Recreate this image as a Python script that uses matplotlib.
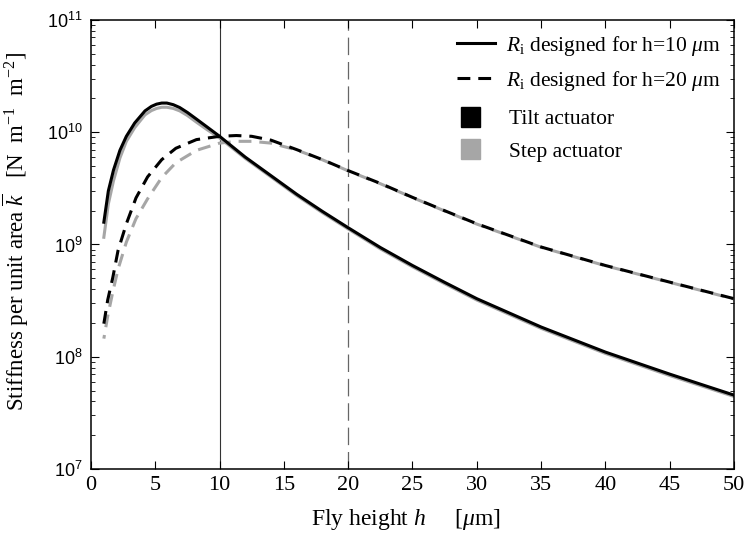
import numpy as np
import matplotlib
matplotlib.use("Agg")
import matplotlib.pyplot as plt
from matplotlib.lines import Line2D
from matplotlib.patches import Patch, Rectangle
from matplotlib.legend_handler import HandlerPatch
from matplotlib.ticker import FixedLocator, FuncFormatter, LogLocator, NullFormatter

plt.rcParams['font.family'] = ['Liberation Serif', 'DejaVu Serif']
plt.rcParams['mathtext.fontset'] = 'custom'
plt.rcParams['mathtext.rm'] = 'Liberation Serif'
plt.rcParams['mathtext.it'] = 'Liberation Serif:italic'
plt.rcParams['mathtext.sf'] = 'Liberation Sans'

# fly height (um), Ri designed for h=10 um
h_10 = [1, 1.35, 1.75, 2.25, 2.75, 3.4, 4.2, 4.7, 5.1, 5.5, 5.9, 6.4, 6.9, 7.5, 8.2, 9, 10,
        12, 14, 16, 18, 20, 22.5, 25, 27.5, 30, 35, 40, 45, 50]
tilt_10 = [1.58e9, 3.0e9, 4.6e9, 6.9e9, 9.2e9, 1.21e10, 1.55e10, 1.70e10, 1.78e10, 1.82e10,
           1.82e10, 1.76e10, 1.66e10, 1.50e10, 1.31e10, 1.12e10, 9.2e9,
           6.0e9, 4.1e9, 2.8e9, 1.97e9, 1.41e9, 9.4e8, 6.5e8, 4.6e8, 3.29e8, 1.84e8, 1.10e8, 7.0e7, 4.55e7]
step_10 = [1.16e9, 2.3e9, 3.7e9, 5.9e9, 8.3e9, 1.10e10, 1.43e10, 1.56e10, 1.63e10, 1.67e10,
           1.67e10, 1.63e10, 1.55e10, 1.41e10, 1.23e10, 1.06e10, 8.9e9,
           5.85e9, 4.0e9, 2.73e9, 1.92e9, 1.375e9, 9.15e8, 6.33e8, 4.48e8, 3.2e8, 1.79e8, 1.07e8, 6.8e7, 4.43e7]

# fly height (um), Ri designed for h=20 um
h_20 = [1, 1.3, 1.7, 2.1, 2.75, 3.5, 4.4, 5.5, 6.6, 8.2, 10, 11.3, 12.5, 14, 16, 18, 20,
        22.5, 25, 27.5, 30, 35, 40, 45, 50]
tilt_20 = [1.97e8, 3.2e8, 5.1e8, 8.8e8, 1.53e9, 2.6e9, 4.0e9, 5.7e9, 7.2e9, 8.6e9, 9.2e9,
           9.35e9, 9.2e9, 8.5e9, 7.0e9, 5.7e9, 4.55e9,
           3.5e9, 2.63e9, 2.0e9, 1.53e9, 9.5e8, 6.5e8, 4.62e8, 3.29e8]
step_20 = [1.45e8, 2.3e8, 3.8e8, 6.0e8, 1.05e9, 1.7e9, 2.55e9, 3.95e9, 5.35e9, 6.9e9, 8.0e9,
           8.3e9, 8.3e9, 8.0e9, 6.95e9, 5.68e9, 4.53e9,
           3.48e9, 2.62e9, 1.99e9, 1.52e9, 9.45e8, 6.47e8, 4.6e8, 3.27e8]

line_labels = [r'$R_\mathrm{i}$ designed for h=10 $\mu$m',
               r'$R_\mathrm{i}$ designed for h=20 $\mu$m']
actuator_labels = ['Tilt actuator', 'Step actuator']

grey = '#a6a6a6'
dash = (0, (4.2, 2.6))

fig = plt.figure(figsize=(7.47, 5.35), dpi=100)
ax = fig.add_axes([0.1218, 0.1234, 0.8608, 0.8392])

ax.axvline(10, color='#333333', lw=0.8, zorder=1)
ax.axvline(20, color='#666666', lw=0.9, linestyle=(0, (14, 5.5)), zorder=1)

ax.plot(h_10, step_10, color=grey, lw=2.2, zorder=2)
ax.plot(h_20, step_20, color=grey, lw=2.2, linestyle=(3, (4.2, 2.6)), zorder=2)
ax.plot(h_10, tilt_10, color='black', lw=2.2, zorder=3)
ax.plot(h_20, tilt_20, color='black', lw=2.2, linestyle=dash, zorder=3)

ax.set_yscale('log')
ax.set_xlim(0, 50)
ax.set_ylim(1e7, 1e11)
ax.xaxis.set_major_locator(FixedLocator(np.arange(0, 51, 5)))
ax.yaxis.set_major_locator(LogLocator(base=10, numticks=10))
ax.yaxis.set_minor_locator(LogLocator(base=10, subs=np.arange(2, 10), numticks=20))
ax.yaxis.set_minor_formatter(NullFormatter())
ax.yaxis.set_major_formatter(FuncFormatter(lambda v, p: r'$\mathsf{10^{%d}}$' % round(np.log10(v))))

ax.tick_params(which='both', direction='in', top=True, right=True)
ax.tick_params(which='major', length=6, width=0.8)
ax.tick_params(which='minor', length=3, width=0.6)
ax.tick_params(axis='x', labelsize=16, pad=5)
ax.tick_params(axis='y', labelsize=13, pad=6)
for s in ax.spines.values():
    s.set_linewidth(1.1)

ax.set_xlabel(r'Fly height $h$     [$\mu$m]', fontsize=17, labelpad=9)
ax.xaxis.set_label_coords(0.49, -0.085)
ax.set_ylabel(r'Stiffness per unit area $\overline{k}$   [N  m$^{-1}$  m$^{-2}$]', fontsize=16.5)
ax.yaxis.set_label_coords(-0.093, 0.53)


def square(legend, orig_handle, xdescent, ydescent, width, height, fontsize):
    s = height * 1.3
    return Rectangle((-xdescent, -ydescent + (height - s) / 2), s, s)


line_handles = [Line2D([], [], color='black', lw=2.2),
                Line2D([], [], color='black', lw=2.2, linestyle=dash)]
leg1 = ax.legend(line_handles, line_labels, loc='upper right', frameon=False, fontsize=15.5,
                 handlelength=1.75, handletextpad=0.5, labelspacing=0.5,
                 borderaxespad=0.25, bbox_to_anchor=(1.0, 1.0))
ax.add_artist(leg1)

patch_handles = [Patch(color='black'), Patch(color=grey)]
ax.legend(patch_handles, actuator_labels, loc='upper left', frameon=False, fontsize=15.5,
          handlelength=1.75, handletextpad=0.5, labelspacing=0.56,
          borderaxespad=0, borderpad=0, bbox_to_anchor=(0.575, 0.801),
          handler_map={Patch: HandlerPatch(patch_func=square)})

fig.savefig('out.png', dpi=100)
